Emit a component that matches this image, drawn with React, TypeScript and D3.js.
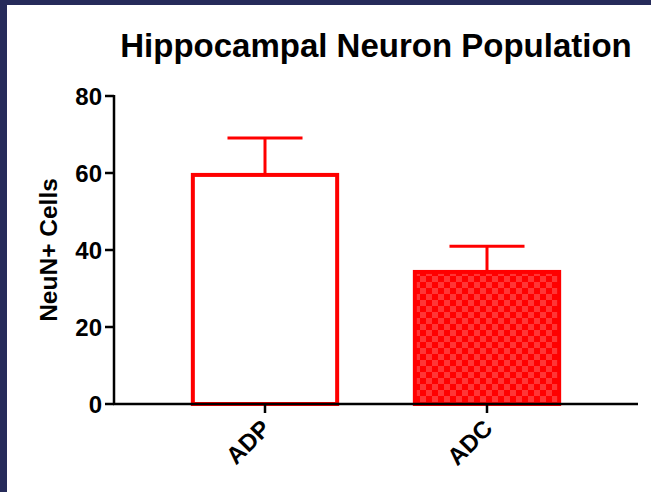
import React from "react";
import * as d3 from "d3";

const categories = ["ADP", "ADC"];
const means = [59.5, 34.3];
const errors = [9.6, 6.7];
const yTicks = [0, 20, 40, 60, 80];
const title = "Hippocampal Neuron Population";
const yLabel = "NeuN+ Cells";

const W = 651;
const H = 492;
const FONT = "'Liberation Sans', Arial, Helvetica, sans-serif";
const RED = "#ff0000";

export default function App() {
  const y = d3.scaleLinear().domain([0, 80]).range([404, 96]);
  const x = d3
    .scaleBand<string>()
    .domain(categories)
    .range([154, 598])
    .paddingInner(0.35)
    .paddingOuter(0.175);
  const bw = x.bandwidth();
  const axisX0 = 114;
  const axisX1 = 638;

  return (
    <svg
      width={W}
      height={H}
      style={{ position: "absolute", left: 0, top: 0, background: "#fff" }}
      fontFamily={FONT}
    >
      <defs>
        <pattern id="checker" width={12} height={12} patternUnits="userSpaceOnUse">
          <rect width={12} height={12} fill="#ff0000" />
          <rect x={0} y={0} width={6} height={6} fill="#ff3535" />
          <rect x={6} y={6} width={6} height={6} fill="#ff3535" />
        </pattern>
      </defs>
      <rect x={0} y={0} width={W} height={H} fill="#fff" />
      <rect x={0} y={0} width={7} height={H} fill="#262b5a" />
      <rect x={0} y={0} width={W} height={5} fill="#262b5a" />

      <text
        x={376}
        y={57}
        textAnchor="middle"
        fontSize={33}
        fontWeight="bold"
        fill="#000"
      >
        {title}
      </text>

      {/* bars */}
      {categories.map((c, i) => {
        const x0 = x(c)!;
        const top = y(means[i]);
        const cx = x0 + bw / 2;
        const capTop = y(means[i] + errors[i]);
        return (
          <g key={c}>
            <line x1={cx} x2={cx} y1={top} y2={capTop} stroke={RED} strokeWidth={3} />
            <line
              x1={cx - bw * 0.26}
              x2={cx + bw * 0.26}
              y1={capTop}
              y2={capTop}
              stroke={RED}
              strokeWidth={3}
            />
            <rect
              x={x0}
              y={top}
              width={bw}
              height={y(0) - top}
              fill={i === 0 ? "#fff" : "url(#checker)"}
              stroke={RED}
              strokeWidth={4}
            />
          </g>
        );
      })}

      {/* y axis */}
      <line x1={axisX0} x2={axisX0} y1={y(80) - 1} y2={y(0) + 1} stroke="#000" strokeWidth={2.5} />
      {yTicks.map((t) => (
        <g key={t}>
          <line x1={axisX0 - 9} x2={axisX0} y1={y(t)} y2={y(t)} stroke="#000" strokeWidth={2.5} />
          <text
            x={axisX0 - 12}
            y={y(t)}
            dy="0.36em"
            textAnchor="end"
            fontSize={24}
            fontWeight="bold"
          >
            {t}
          </text>
        </g>
      ))}
      <text
        transform={`translate(57, ${(y(0) + y(80)) / 2}) rotate(-90)`}
        textAnchor="middle"
        fontSize={24.5}
        fontWeight="bold"
      >
        {yLabel}
      </text>

      {/* x axis */}
      <line x1={axisX0 - 1} x2={axisX1} y1={y(0)} y2={y(0)} stroke="#000" strokeWidth={2.5} />
      {categories.map((c) => {
        const cx = x(c)! + bw / 2;
        return (
          <g key={c}>
            <line x1={cx} x2={cx} y1={y(0)} y2={y(0) + 9} stroke="#000" strokeWidth={2.5} />
            <text
              transform={`translate(${cx + 1}, ${y(0) + 20}) rotate(-45)`}
              textAnchor="end"
              dy="0.35em"
              fontSize={24}
              fontWeight="bold"
            >
              {c}
            </text>
          </g>
        );
      })}
    </svg>
  );
}
